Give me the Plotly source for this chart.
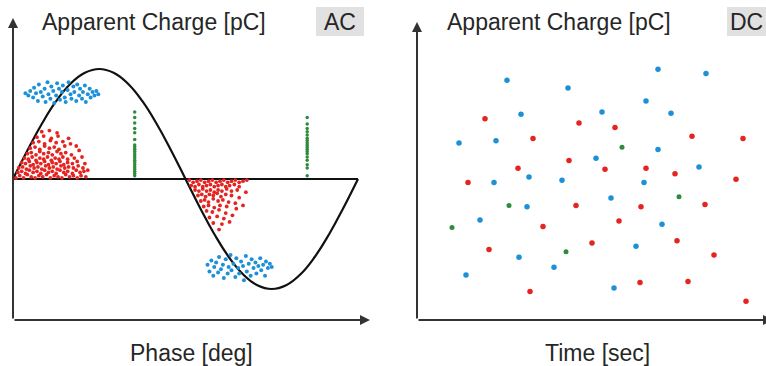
import plotly.graph_objects as go

# ---------------- data ----------------
# AC test voltage (reference waveform), phase in deg, amplitude in arbitrary pC units
sine_phase = [0, 15, 30, 45, 60, 75, 90, 105, 120, 135, 150, 165, 180,
              195, 210, 225, 240, 255, 270, 285, 300, 315, 330, 345, 360]
sine_value = [0, 25.9, 50, 70.7, 86.6, 96.6, 100, 96.6, 86.6, 70.7, 50, 25.9, 0,
              -25.9, -50, -70.7, -86.6, -96.6, -100, -96.6, -86.6, -70.7, -50, -25.9, 0]

ac_red_pos = [
    (3, 1), (7, 3), (11, 1), (15, 4), (19, 2), (23, 1), (27, 3), (31, 2), (35, 4), (39, 1),
    (43, 3), (47, 2), (51, 1), (55, 4), (59, 2), (63, 3), (67, 1), (71, 3), (76, 2),
    (5, 6), (9, 7), (13, 5), (17, 8), (21, 6), (25, 7), (29, 5), (33, 8), (37, 6), (41, 7),
    (45, 5), (49, 8), (53, 6), (57, 7), (62, 5), (66, 8), (70, 6), (74, 7),
    (6, 10), (10, 11), (14, 9), (18, 12), (22, 10), (26, 11), (30, 9), (34, 12), (38, 10),
    (42, 11), (46, 9), (50, 12), (54, 10), (58, 11), (63, 10), (68, 12), (73, 10),
    (9, 15), (13, 14), (17, 16), (21, 13), (25, 15), (29, 14), (33, 16), (37, 13), (41, 15),
    (45, 14), (49, 16), (53, 13), (57, 15), (62, 14), (67, 16),
    (12, 19), (16, 18), (20, 20), (24, 17), (28, 19), (32, 18), (36, 20), (40, 17), (44, 19),
    (48, 18), (52, 20), (57, 18), (64, 19),
    (15, 23), (19, 24), (24, 22), (28, 25), (32, 23), (37, 24), (41, 22), (46, 25), (50, 23),
    (55, 24), (61, 22),
    (18, 28), (23, 29), (28, 27), (33, 30), (38, 28), (43, 29), (48, 27), (54, 30),
    (21, 33), (27, 34), (33, 32), (39, 35), (45, 33), (52, 34), (60, 32),
    (25, 38), (32, 39), (40, 37), (47, 39),
    (30, 43), (38, 44), (46, 42),
    (69, 26), (72, 20), (75, 14), (78, 8), (58, 37), (66, 30),
]

ac_red_neg = [
    (184, -1), (188, -3), (192, -2), (196, -1), (200, -3), (204, -2), (208, -1), (212, -3),
    (216, -2), (220, -1), (224, -3), (228, -2), (232, -1), (236, -3), (240, -2), (244, -1),
    (186, -6), (190, -7), (194, -5), (198, -7), (202, -6), (206, -5), (210, -7), (214, -6),
    (218, -5), (222, -7), (226, -6), (231, -5), (236, -7),
    (190, -10), (194, -11), (198, -9), (202, -11), (206, -10), (210, -12), (214, -10),
    (218, -11), (223, -9), (228, -11), (234, -10), (243, -12),
    (193, -15), (197, -14), (201, -16), (205, -14), (209, -15), (213, -13), (217, -16),
    (222, -14), (228, -15), (236, -17),
    (196, -20), (200, -19), (204, -21), (209, -18), (214, -20), (219, -19), (225, -21), (232, -22),
    (199, -25), (204, -24), (210, -26), (216, -24), (223, -25), (240, -24),
    (202, -29), (208, -30), (215, -28), (222, -31), (233, -27),
    (205, -35), (213, -34), (220, -36), (229, -33),
    (209, -40), (218, -41), (226, -39),
    (215, -46),
]

ac_blue_pos = [
    (13, 78), (16, 76), (18, 80), (21, 74), (22, 83), (24, 78), (26, 71), (27, 86), (29, 79),
    (31, 75), (33, 82), (34, 70), (36, 88), (37, 77), (39, 73), (40, 84), (42, 80), (43, 69),
    (45, 76), (46, 87), (48, 82), (49, 72), (51, 79), (52, 85), (54, 74), (55, 70), (57, 81),
    (58, 88), (60, 77), (61, 73), (63, 84), (64, 79), (66, 71), (67, 86), (69, 76), (70, 82),
    (72, 73), (73, 79), (75, 85), (76, 70), (78, 77), (80, 82), (81, 74), (83, 79), (85, 76),
    (87, 80), (89, 77),
]

ac_blue_neg = [
    (203, -78), (205, -84), (207, -74), (209, -88), (210, -80), (212, -76), (214, -85),
    (215, -71), (217, -82), (219, -78), (220, -90), (222, -73), (224, -86), (225, -80),
    (227, -69), (228, -83), (230, -77), (232, -89), (233, -72), (235, -81), (236, -86),
    (238, -75), (240, -79), (241, -92), (243, -70), (244, -84), (246, -77), (248, -88),
    (249, -73), (251, -81), (253, -76), (254, -86), (256, -79), (258, -72), (259, -83),
    (261, -78), (263, -88), (264, -75), (266, -81), (268, -77), (270, -80),
]

ac_green1_phase = 127
ac_green1_charge = [61, 56, 51, 46, 42, 36, 31, 29, 27, 25, 23, 21, 19, 17, 15, 13, 11, 9, 7, 5, 3]
ac_green2_phase = 307
ac_green2_charge = [56, 50, 46, 43, 40, 37, 35, 33, 31, 29, 27, 25, 23, 20, 17, 13, 10, 3]

# DC: time [s], apparent charge [pC]
dc_blue_time = [9.0, 15.1, 24.1, 28.9, 22.9, 10.4, 18.5, 25.4, 4.2, 7.9, 24.1, 17.9, 28.2,
                11.2, 7.7, 14.5, 22.7, 19.4, 11.0, 6.3, 24.5, 21.9, 10.2, 13.7, 4.9, 19.7]
dc_blue_charge = [218, 211, 228, 224, 199, 187, 189, 188, 161, 163, 155, 147, 139,
                  130, 125, 127, 125, 111, 103, 91, 87, 67, 57, 48, 41, 29]
dc_red_time = [6.8, 16.2, 19.8, 11.6, 27.5, 32.6, 15.2, 10.1, 18.8, 22.9, 25.8, 31.9, 5.1,
               15.9, 22.4, 28.8, 12.6, 20.2, 17.5, 26.0, 7.2, 29.7, 11.3, 22.3, 27.1, 32.9]
dc_red_charge = [183, 179, 175, 165, 167, 165, 145, 138, 137, 138, 133, 128, 125,
                 104, 103, 105, 85, 90, 70, 72, 64, 59, 26, 34, 35, 17]
dc_green_time = [20.5, 26.2, 9.2, 3.5, 14.9]
dc_green_charge = [157, 112, 104, 84, 62]

RED = "#e52421"
BLUE = "#1d91d8"
GREEN = "#2e8b3c"
INK = "#262626"
FONT = "Liberation Sans, Arial, sans-serif"

fig = go.Figure()

# ---------------- AC panel ----------------
fig.add_trace(go.Scatter(x=[0, 360], y=[0, 0], mode="lines",
                         line=dict(color="#111", width=2), xaxis="x", yaxis="y",
                         hoverinfo="skip"))
fig.add_trace(go.Scatter(x=sine_phase, y=sine_value, mode="lines",
                         line=dict(color="#111", width=2.2, shape="spline", smoothing=1.3),
                         xaxis="x", yaxis="y", hoverinfo="skip"))


def add_pts(pts, color, size, xa="x", ya="y"):
    fig.add_trace(go.Scatter(x=[p[0] for p in pts], y=[p[1] for p in pts], mode="markers",
                             marker=dict(color=color, size=size, line=dict(width=0)),
                             xaxis=xa, yaxis=ya))


add_pts(ac_red_pos, RED, 3.8)
add_pts(ac_red_neg, RED, 3.8)
add_pts(ac_blue_pos, BLUE, 4)
add_pts(ac_blue_neg, BLUE, 4)
fig.add_trace(go.Scatter(x=[ac_green1_phase] * len(ac_green1_charge), y=ac_green1_charge,
                         mode="markers", marker=dict(color=GREEN, size=3.5), xaxis="x", yaxis="y"))
fig.add_trace(go.Scatter(x=[ac_green2_phase] * len(ac_green2_charge), y=ac_green2_charge,
                         mode="markers", marker=dict(color=GREEN, size=3.5), xaxis="x", yaxis="y"))

# ---------------- DC panel ----------------
fig.add_trace(go.Scatter(x=dc_blue_time, y=dc_blue_charge, mode="markers",
                         marker=dict(color=BLUE, size=5.5), xaxis="x2", yaxis="y2"))
fig.add_trace(go.Scatter(x=dc_red_time, y=dc_red_charge, mode="markers",
                         marker=dict(color=RED, size=5.5), xaxis="x2", yaxis="y2"))
fig.add_trace(go.Scatter(x=dc_green_time, y=dc_green_charge, mode="markers",
                         marker=dict(color=GREEN, size=5), xaxis="x2", yaxis="y2"))

# ---------------- axes with arrows ----------------
def arrow(xr, yr, x, y, ax, ay):
    return dict(xref=xr, yref=yr, axref=xr, ayref=yr, x=x, y=y, ax=ax, ay=ay, text="",
                showarrow=True, arrowhead=2, arrowsize=1, arrowwidth=2, arrowcolor="#333",
                standoff=0, startstandoff=0)


W, H = 766, 366


def px(x):
    return x / W


def py(y):
    return 1 - y / H


annotations = [
    arrow("x", "y", 0, 146.4, 0, -128.2),
    arrow("x", "y", 372.5, -128.2, 0, -128.2),
    arrow("x2", "y2", 0, 270.9, 0, 0),
    arrow("x2", "y2", 35.6, 0, 0, 0),
]
txt = dict(xref="paper", yref="paper", showarrow=False, xanchor="center", yanchor="middle",
           font=dict(family=FONT, size=23, color=INK))
annotations += [
    dict(txt, text="Apparent Charge [pC]", x=px(154), y=py(22)),
    dict(txt, text="Apparent Charge [pC]", x=px(559), y=py(22)),
    dict(txt, text="AC", x=px(340), y=py(22)),
    dict(txt, text="DC", x=px(765), y=py(22), xanchor="right"),
    dict(txt, text="Phase [deg]", x=px(192), y=py(353)),
    dict(txt, text="Time [sec]", x=px(597), y=py(353)),
]

shapes = [
    dict(type="rect", xref="paper", yref="paper", x0=px(316), x1=px(364), y0=py(36), y1=py(7),
         fillcolor="#e1e1e1", line=dict(width=0), layer="below"),
    dict(type="rect", xref="paper", yref="paper", x0=px(727), x1=px(776), y0=py(36), y1=py(7),
         fillcolor="#e1e1e1", line=dict(width=0), layer="below"),
]

hidden = dict(visible=False, showgrid=False, zeroline=False, fixedrange=True)
fig.update_layout(
    width=W, height=H, margin=dict(l=0, r=0, t=0, b=0),
    paper_bgcolor="white", plot_bgcolor="white", showlegend=False,
    xaxis=dict(hidden, domain=[0, 0.5], range=[-13.57, 386.1]),
    yaxis=dict(hidden, domain=[0, 1], range=[-170, 162.7]),
    xaxis2=dict(hidden, domain=[0.5, 1], range=[-3.4, 34.9], anchor="y2"),
    yaxis2=dict(hidden, domain=[0, 1], range=[-41.8, 290.9], anchor="x2"),
    annotations=annotations, shapes=shapes,
)

fig.write_html("out.html", config={"displayModeBar": False},
               post_script="document.body.style.margin='0';document.body.style.overflow='hidden';")
